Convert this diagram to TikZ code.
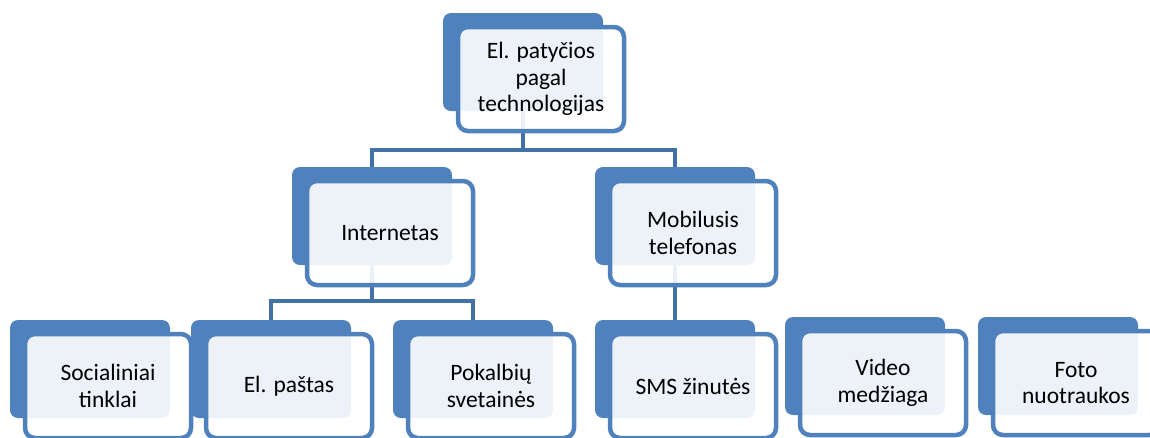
\documentclass[tikz,border=0pt]{standalone}
\usepackage{fontspec}
\setmainfont{Carlito}
\usetikzlibrary{backgrounds}
\definecolor{accblue}{RGB}{79,129,189}
\definecolor{linkblue}{RGB}{68,112,168}
\tikzset{
  backbox/.style={rectangle, rounded corners=8pt, fill=accblue, minimum width=160pt,
    minimum height=98pt, inner sep=0pt, outer sep=0pt, anchor=north west},
  frontbox/.style={rectangle, rounded corners=10pt, draw=accblue, line width=4.5pt,
    fill=white, fill opacity=0.9, text opacity=1, minimum width=166pt, minimum height=104pt,
    inner sep=0pt, outer sep=0pt, align=center, font=\fontsize{23.5}{26.5}\selectfont},
  link/.style={draw=linkblue, line width=4.5pt}
}
\newcommand{\unitbox}[4]{%
  \node[backbox] (#1-b) at (#2,#3) {};
  \node[frontbox] (#1) at ({#2+15+83},{#3+14+52}) {#4};
}
\begin{document}
\begin{tikzpicture}[x=1pt,y=-1pt]
\useasboundingbox (0,0) rectangle (1150,437);
\clip (0,0) rectangle (1150,437);
\unitbox{top}{443}{13}{El. patyčios\\pagal\\technologijas}
\unitbox{int}{292}{167}{Internetas}
\unitbox{mob}{595}{167}{Mobilusis\\telefonas}
\unitbox{soc}{10}{320}{Socialiniai\\tinklai}
\unitbox{pas}{191}{320}{El. paštas}
\unitbox{pok}{393}{320}{Pokalbių\\svetainės}
\unitbox{sms}{595}{320}{SMS žinutės}
\unitbox{vid}{785}{317}{Video\\medžiaga}
\unitbox{fot}{978}{317}{Foto\\nuotraukos}
\coordinate (bar1) at (0,150);
\coordinate (bar2) at (0,301);
\begin{pgfonlayer}{background}
  \draw[link] (top-b.south) -- (top-b.south |- bar1);
  \draw[link] (int-b.north) |- (mob-b.north |- bar1) -- (mob-b.north);
  \draw[link] (int-b.south) -- (int-b.south |- bar2);
  \draw[link] (pas-b.north) |- (pok-b.north |- bar2) -- (pok-b.north);
  \draw[link] (mob-b.south) -- (sms-b.north);
\end{pgfonlayer}
\end{tikzpicture}
\end{document}
